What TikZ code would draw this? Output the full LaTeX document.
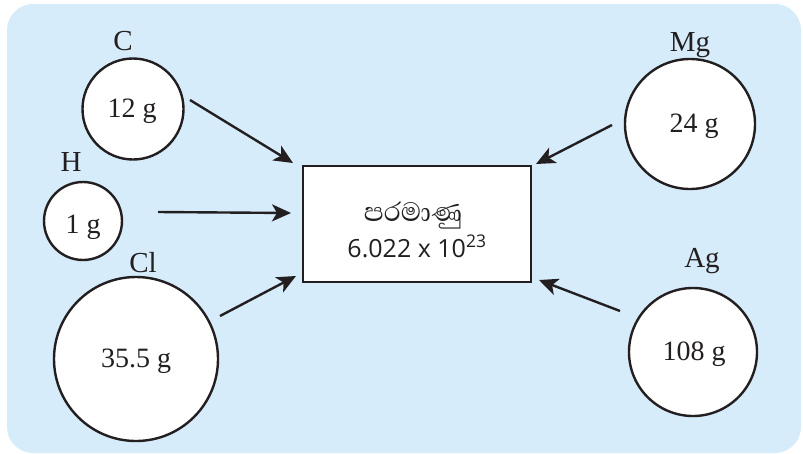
\documentclass[tikz,border=0pt]{standalone}
\usepackage{fontspec}
\setmainfont{Liberation Serif}
\newfontfamily\boxfont{Open Sans}
\newfontfamily\sinhala[Script=Sinhala]{Abhaya Libre}
\usetikzlibrary{arrows.meta}
\definecolor{bg}{RGB}{214,236,250}
\definecolor{ink}{RGB}{35,31,32}
\begin{document}
\begin{tikzpicture}[x=1pt,y=-1pt,
  atom/.style={circle,draw=ink,fill=white,line width=2.4pt,inner sep=0pt},
  mass/.style={font=\fontsize{28}{32}\selectfont,text=ink,inner sep=0pt,anchor=base},
  lbl/.style={font=\fontsize{29}{32}\selectfont,text=ink,inner sep=0pt,anchor=base},
  arr/.style={draw=ink,line width=2.4pt,-{Stealth[length=19pt,width=17pt,inset=5pt]}},
  bigbox/.style={draw=ink,fill=white,line width=2.4pt,minimum width=228pt,minimum height=116pt,inner sep=0pt}]
\useasboundingbox (0,0) rectangle (803,453);
\fill[bg, rounded corners=26pt] (7,4) rectangle (801,453);
% atoms
\node[atom,minimum size=101pt] (c) at (133,109) {};
\node[atom,minimum size=78pt] (h) at (83,221) {};
\node[atom,minimum size=164pt] (cl) at (136,359) {};
\node[atom,minimum size=130pt] (mg) at (690,124) {};
\node[atom,minimum size=128pt] (ag) at (693,352) {};
% masses
\node[mass] (mc) at (132,117) {12 g};
\node[mass] (mh) at (83,233) {1 g};
\node[mass] (mcl) at (136,367) {35.5 g};
\node[mass] (mmg) at (694,132) {24 g};
\node[mass] (mag) at (694,360) {108 g};
% labels
\node[lbl] (lc) at (123,50) {C};
\node[lbl] (lh) at (71,171) {H};
\node[lbl] (lcl) at (143,272) {Cl};
\node[lbl] (lmg) at (690,51) {Mg};
\node[lbl] (lag) at (702,267) {Ag};
% central box
\node[bigbox] (box) at (417,224) {};
\node[font=\sinhala\fontsize{34}{38}\selectfont,text=ink,inner sep=0pt,anchor=base] (word) at (413,221) {පරමාණු};
\node[font=\boxfont\fontsize{25}{30}\selectfont,text=ink,inner sep=0pt,anchor=base] (num) at (417,257) {6.022 x 10\textsuperscript{23}};
% arrow endpoints
\coordinate (c1) at (190,100); \coordinate (c2) at (293,163);
\coordinate (h1) at (158,212); \coordinate (h2) at (291,213);
\coordinate (cl1) at (220,316); \coordinate (cl2) at (296,276);
\coordinate (mg1) at (612,125); \coordinate (mg2) at (536,164);
\coordinate (ag1) at (620,311); \coordinate (ag2) at (539,280);
\draw[arr] (c1) -- (c2);
\draw[arr] (h1) -- (h2);
\draw[arr] (cl1) -- (cl2);
\draw[arr] (mg1) -- (mg2);
\draw[arr] (ag1) -- (ag2);
\end{tikzpicture}
\end{document}
